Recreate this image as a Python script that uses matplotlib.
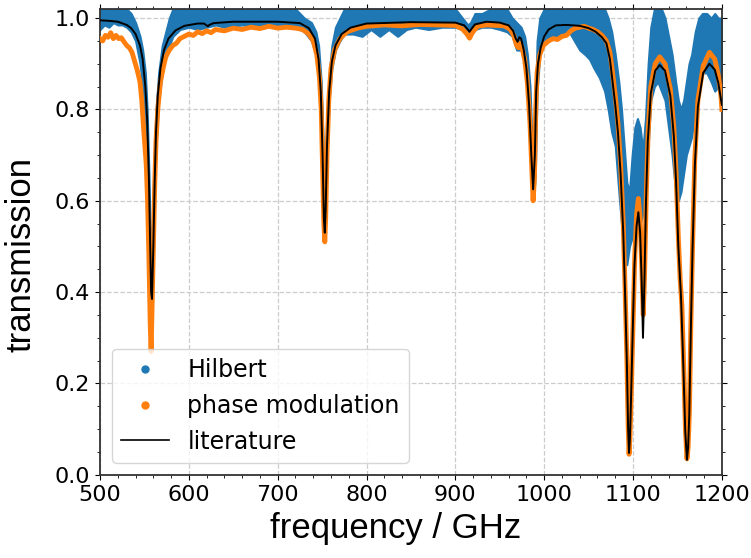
import matplotlib
matplotlib.use('Agg')
import matplotlib.pyplot as plt
from matplotlib.lines import Line2D
from matplotlib.ticker import MultipleLocator

# literature spectrum (GHz, transmission)
lit_f = [500, 510, 520, 530, 535, 540, 545, 548, 551, 553, 555, 556.5, 557.5, 558.5, 560, 561.5, 563, 565, 568, 572,
         577, 585, 595, 610, 617, 620, 621.5, 623, 628, 650, 700, 725, 735, 742, 746, 748.5, 750.5, 752, 753, 754,
         755.5, 758, 761, 765, 772, 782, 800, 850, 900, 910, 914, 916, 918, 922, 935, 950, 960, 965, 968, 970,
         972, 974, 977, 980, 983, 985.5, 987.5, 989.5, 991, 993, 996, 1000, 1005, 1013, 1025, 1040, 1050, 1058, 1065, 1070,
         1074, 1077, 1080, 1083, 1086, 1089, 1091, 1093, 1094.5, 1095.5, 1096.5, 1097.8, 1099.6, 1101.6, 1104, 1106, 1108, 1109.8, 1111.2, 1112.8,
         1114.6, 1116.6, 1120, 1125, 1130, 1136, 1142, 1146, 1148.5, 1151, 1154, 1156.6, 1158.8, 1160.7, 1162, 1163.3, 1165, 1167, 1169.6, 1173,
         1179, 1186, 1192, 1196, 1200]
lit_t = [0.995, 0.994, 0.992, 0.985, 0.978, 0.965, 0.94, 0.91, 0.85, 0.78, 0.65, 0.50, 0.40, 0.385, 0.50, 0.64, 0.75, 0.83, 0.89, 0.93,
         0.955, 0.973, 0.983, 0.988, 0.988, 0.984, 0.982, 0.985, 0.989, 0.992, 0.992, 0.989, 0.978, 0.955, 0.91, 0.84, 0.70, 0.56, 0.53, 0.58,
         0.72, 0.84, 0.905, 0.94, 0.965, 0.979, 0.988, 0.991, 0.99, 0.984, 0.975, 0.97, 0.976, 0.986, 0.992, 0.99, 0.984, 0.972, 0.955, 0.948,
         0.958, 0.955, 0.93, 0.89, 0.81, 0.70, 0.625, 0.70, 0.84, 0.90, 0.935, 0.96, 0.975, 0.984, 0.985, 0.983, 0.978, 0.97, 0.958, 0.945,
         0.91, 0.86, 0.81, 0.75, 0.66, 0.53, 0.40, 0.25, 0.10, 0.048, 0.08, 0.17, 0.31, 0.458, 0.545, 0.575, 0.53, 0.42, 0.30, 0.42,
         0.60, 0.73, 0.835, 0.885, 0.897, 0.885, 0.83, 0.74, 0.64, 0.50, 0.39, 0.24, 0.095, 0.033, 0.06, 0.13, 0.31, 0.495, 0.676, 0.806,
         0.88, 0.90, 0.887, 0.858, 0.81]

# phase modulation measurement
pm_f = [500, 503, 506, 509, 512, 515, 518, 521, 524, 527, 530, 533, 536, 539, 542, 545, 547, 549, 550.5, 552,
        553.5, 555, 556.5, 557.5, 558.5, 560, 561.5, 563, 565, 568, 571, 574, 578, 582, 586, 590, 595, 600, 605, 610,
        615, 620, 625, 630, 640, 650, 660, 670, 680, 690, 700, 710, 720, 728, 735, 740, 744, 747, 749, 750.5,
        752, 753, 754, 755.5, 757.5, 760, 764, 770, 778, 790, 800, 820, 840, 860, 880, 900, 908, 913, 916, 919,
        925, 935, 945, 955, 962, 966, 969, 971, 973, 975, 978, 981, 984, 986, 987.5, 989, 990.5, 992, 995, 999,
        1005, 1010, 1015, 1020, 1025, 1030, 1035, 1040, 1045, 1050, 1055, 1060, 1065, 1070, 1074, 1077, 1080, 1083, 1086, 1089,
        1091, 1093, 1094.5, 1095.5, 1096.5, 1098, 1100, 1102, 1104, 1106, 1108, 1110, 1111.5, 1113, 1115, 1117, 1120, 1125, 1130, 1136,
        1142, 1146, 1148.5, 1151, 1153, 1155, 1157, 1159, 1160.7, 1162, 1163.5, 1165, 1167, 1169.5, 1173, 1179, 1186, 1192, 1196, 1199,
        1200]
pm_t = [0.955, 0.95, 0.962, 0.958, 0.968, 0.955, 0.962, 0.955, 0.957, 0.948, 0.94, 0.935, 0.925, 0.905, 0.885, 0.86, 0.82, 0.76, 0.72, 0.68,
        0.60, 0.48, 0.33, 0.27, 0.36, 0.50, 0.63, 0.73, 0.80, 0.86, 0.89, 0.915, 0.93, 0.94, 0.945, 0.955, 0.96, 0.965, 0.962, 0.97,
        0.966, 0.972, 0.968, 0.975, 0.972, 0.978, 0.975, 0.98, 0.977, 0.982, 0.978, 0.98, 0.978, 0.975, 0.965, 0.95, 0.92, 0.87, 0.80, 0.68,
        0.55, 0.51, 0.56, 0.70, 0.82, 0.89, 0.93, 0.955, 0.97, 0.978, 0.982, 0.985, 0.983, 0.986, 0.985, 0.984, 0.976, 0.965, 0.956, 0.968,
        0.982, 0.985, 0.984, 0.983, 0.975, 0.96, 0.94, 0.935, 0.945, 0.935, 0.91, 0.86, 0.77, 0.67, 0.60, 0.65, 0.80, 0.88, 0.92, 0.94,
        0.95, 0.955, 0.953, 0.96, 0.962, 0.972, 0.978, 0.98, 0.982, 0.978, 0.975, 0.97, 0.962, 0.95, 0.925, 0.88, 0.83, 0.77, 0.68, 0.55,
        0.41, 0.26, 0.11, 0.045, 0.08, 0.18, 0.33, 0.48, 0.57, 0.605, 0.56, 0.45, 0.35, 0.44, 0.62, 0.75, 0.85, 0.90, 0.915, 0.90,
        0.845, 0.76, 0.66, 0.52, 0.43, 0.37, 0.24, 0.10, 0.035, 0.06, 0.14, 0.32, 0.50, 0.69, 0.82, 0.895, 0.925, 0.91, 0.875, 0.83,
        0.80]

# Hilbert measurement: noisy, so kept as lower/upper envelope of the point cloud
hb_f = [500, 505, 510, 515, 520, 525, 530, 535, 540, 545, 548, 551, 553, 555, 557, 559, 561, 563, 566, 570,
        574, 578, 582, 590, 600, 610, 620, 630, 640, 660, 680, 700, 720, 730, 738, 743, 746, 749, 751, 752.5,
        754, 756, 758, 761, 765, 770, 775, 785, 795, 805, 815, 825, 835, 845, 855, 870, 885, 900, 908, 914,
        917, 922, 930, 940, 950, 958, 964, 969, 974, 978, 981, 984, 986, 988, 990, 992, 995, 1000, 1010, 1020,
        1028, 1034, 1040, 1046, 1051, 1056, 1062, 1068, 1072, 1076, 1080, 1084, 1087, 1090, 1093, 1096, 1099, 1102, 1105, 1108,
        1111, 1114, 1117, 1120, 1124, 1128, 1132, 1136, 1140, 1144, 1148, 1151, 1154, 1157, 1160, 1163, 1166, 1170, 1174, 1178,
        1183, 1188, 1192, 1196, 1200]
hb_lo = [0.975, 0.985, 0.98, 0.99, 0.985, 0.985, 0.98, 0.97, 0.95, 0.90, 0.85, 0.76, 0.66, 0.50, 0.40, 0.42, 0.60, 0.72, 0.82, 0.88,
         0.92, 0.94, 0.96, 0.975, 0.98, 0.975, 0.98, 0.985, 0.98, 0.985, 0.98, 0.985, 0.98, 0.97, 0.95, 0.92, 0.87, 0.78, 0.62, 0.53,
         0.57, 0.72, 0.82, 0.89, 0.93, 0.95, 0.965, 0.965, 0.96, 0.975, 0.96, 0.975, 0.96, 0.975, 0.98, 0.975, 0.98, 0.98, 0.975, 0.96,
         0.96, 0.975, 0.98, 0.98, 0.975, 0.97, 0.96, 0.93, 0.93, 0.90, 0.85, 0.75, 0.66, 0.60, 0.66, 0.84, 0.92, 0.95, 0.955, 0.96,
         0.97, 0.95, 0.93, 0.92, 0.91, 0.89, 0.87, 0.84, 0.80, 0.75, 0.72, 0.62, 0.55, 0.48, 0.46, 0.50, 0.52, 0.55, 0.56, 0.55,
         0.57, 0.60, 0.72, 0.82, 0.85, 0.86, 0.84, 0.82, 0.76, 0.70, 0.62, 0.60, 0.62, 0.66, 0.70, 0.72, 0.74, 0.80, 0.85, 0.88,
         0.88, 0.86, 0.84, 0.85, 0.86]
hb_hi = [1.02, 1.02, 1.02, 1.02, 1.02, 1.02, 1.02, 1.01, 0.99, 0.96, 0.93, 0.88, 0.80, 0.66, 0.48, 0.55, 0.70, 0.80, 0.88, 0.94,
         0.97, 1.0, 1.02, 1.02, 1.02, 1.02, 1.02, 1.02, 1.02, 1.02, 1.02, 1.02, 1.02, 1.0, 0.99, 0.97, 0.94, 0.86, 0.74, 0.60,
         0.66, 0.80, 0.88, 0.94, 0.98, 1.0, 1.02, 1.02, 1.02, 1.02, 1.02, 1.02, 1.02, 1.02, 1.02, 1.02, 1.02, 1.02, 1.0, 0.985,
         0.99, 1.01, 1.01, 1.02, 1.02, 1.02, 1.0, 0.99, 0.98, 0.96, 0.92, 0.85, 0.74, 0.66, 0.80, 0.95, 1.0, 1.02, 1.02, 1.02,
         1.02, 1.02, 1.02, 1.02, 1.02, 1.02, 1.02, 1.02, 1.0, 0.97, 0.92, 0.86, 0.80, 0.72, 0.64, 0.62, 0.70, 0.76, 0.78, 0.76,
         0.71, 0.78, 0.90, 0.98, 1.02, 1.02, 1.02, 1.0, 0.96, 0.92, 0.86, 0.82, 0.80, 0.82, 0.86, 0.90, 0.92, 0.97, 1.0, 1.01,
         1.01, 1.0, 1.01, 1.0, 1.0]

blue = '#1f77b4'
orange = '#ff7f0e'

fig = plt.figure(figsize=(7.51, 5.58), dpi=100)
ax = fig.add_axes([0.1332, 0.149, 0.828, 0.835])

ax.fill_between(hb_f, hb_lo, hb_hi, color=blue, lw=1.5, edgecolor=blue, zorder=2)
ax.plot(pm_f, pm_t, color=orange, lw=3.5, solid_joinstyle='round', zorder=3)
ax.plot(lit_f, lit_t, color='black', lw=1.4, zorder=4)

ax.set_xlim(500, 1200)
ax.set_ylim(0, 1.02)
ax.xaxis.set_major_locator(MultipleLocator(100))
ax.xaxis.set_minor_locator(MultipleLocator(20))
ax.yaxis.set_major_locator(MultipleLocator(0.2))
ax.yaxis.set_minor_locator(MultipleLocator(0.05))
ax.tick_params(which='both', top=True, right=True, direction='out')
ax.tick_params(labelsize=16)
ax.grid(True, ls='--', color='#cccccc', lw=0.9)
for s in ax.spines.values():
    s.set_linewidth(1.3)
    s.set_color('#333333')

ax.set_xlabel('frequency / GHz', fontsize=25, family='Liberation Sans')
ax.set_ylabel('transmission', fontsize=25, family='Liberation Sans')
ax.xaxis.set_label_coords(0.476, -0.08)
ax.yaxis.set_label_coords(-0.1, 0.474)

handles = [Line2D([], [], ls='', marker='.', ms=10, color=blue),
           Line2D([], [], ls='', marker='.', ms=10, color=orange),
           Line2D([], [], color='black', lw=1.2)]
ax.legend(handles, ['Hilbert', 'phase modulation', 'literature'], loc='lower left',
          fontsize=17, framealpha=0.8)

fig.savefig('out.png', dpi=100)
